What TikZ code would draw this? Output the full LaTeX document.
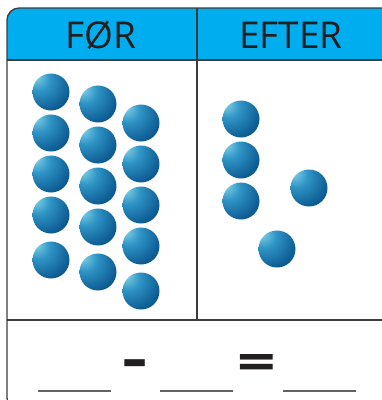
\documentclass[tikz,border=0pt]{standalone}
\usepackage{fontspec}
\setmainfont{Open Sans}
\definecolor{header}{HTML}{00AEEF}
\definecolor{ink}{HTML}{231F20}
\definecolor{rule}{HTML}{3C3C3C}
\definecolor{beadhi}{HTML}{86D6EA}
\definecolor{beadmid}{HTML}{3095C6}
\definecolor{beaddark}{HTML}{0C5A92}
\pgfdeclareradialshading{bead}{\pgfpoint{-22bp}{22bp}}{%
  color(0bp)=(beadhi); color(16bp)=(beadmid); color(38bp)=(beaddark); color(80bp)=(beaddark)}

\begin{document}
\begin{tikzpicture}[x=1pt,y=-1pt]
\tikzstyle{bead}=[circle, minimum size=37pt, inner sep=0pt, shade, shading=bead]
\tikzstyle{frame}=[draw=rule, line width=1.3pt]
\tikzstyle{title}=[font=\fontsize{37}{40}\selectfont, text=ink, anchor=base, inner sep=0pt]
\tikzstyle{blank}=[draw=rule!80, line width=1.4pt]
\tikzstyle{sign}=[font=\bfseries\fontsize{52}{56}\selectfont, text=ink, anchor=base, inner sep=0pt]
\useasboundingbox (0,0) rectangle (382,400);
\clip (0,0) rectangle (382,400);

% header band
\begin{scope}
\clip[rounded corners=12] (7,8) rectangle (395,410);
\fill[header] (7,8) rectangle (395,60);
\end{scope}
\draw[frame, rounded corners=12] (7,8) rectangle (395,410);
\draw[frame] (7,60) -- (395,60);
\draw[frame] (197,8) -- (197,320);
\draw[frame] (7,320) -- (395,320);

\node[title] (foer) at (101,48) {FØR};
\node[title] (efter) at (291,48) {EFTER};

% before
\foreach \y [count=\i] in {92,133,174,215,260} {
  \node[bead] (a\i) at (51,\y) {};}
\foreach \y [count=\i] in {104,145,186,227,272} {
  \node[bead] (b\i) at (98,\y) {};}
\foreach \y [count=\i] in {123,164,205,246,291} {
  \node[bead] (c\i) at (141,\y) {};}

% after
\foreach \y [count=\i] in {119,160,201} {
  \node[bead] (d\i) at (241,\y) {};}
\node[bead] (e1) at (309,188) {};
\node[bead] (e2) at (277,249) {};

% number sentence
\draw[blank] (38,391) -- (111,391);
\draw[blank] (160,391) -- (233,391);
\draw[blank] (283,391) -- (356,391);
\node[sign] (minus) at (135.5,378) {\scalebox{1.5}[1.1]{-}};
\node[sign] (equals) at (257,380) {\scalebox{1.3}[1]{=}};
\end{tikzpicture}
\end{document}
